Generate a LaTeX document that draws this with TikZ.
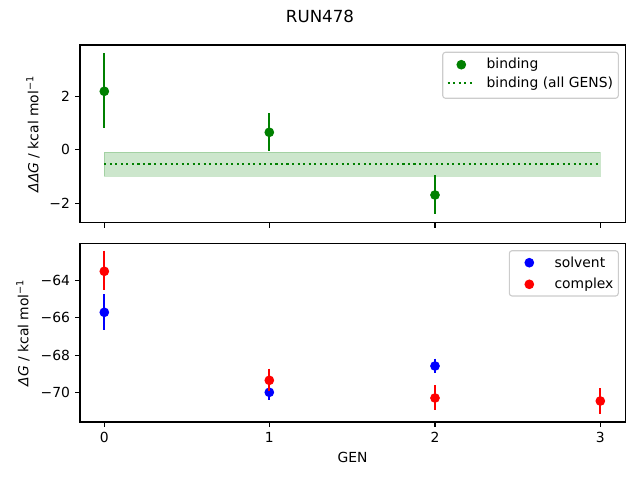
\documentclass[tikz,border=0pt]{standalone}
\usepackage{fontspec}
\setmainfont{DejaVu Sans}
\definecolor{mgreen}{HTML}{008000}
\definecolor{mblue}{HTML}{0000FF}
\definecolor{mred}{HTML}{FF0000}
\definecolor{legedge}{gray}{0.8}
\tikzset{
  lbl/.style={font=\fontsize{10}{12}\selectfont, inner sep=0pt},
  axisframe/.style={draw=black, line width=0.8pt},
  tickmark/.style={draw=black, line width=0.8pt},
  ebar/.style={line width=1.5pt},
  dotmark/.style={circle, inner sep=0pt, minimum size=7pt},
  legbox/.style={draw=legedge, fill=white, fill opacity=0.8, rounded corners=2pt, line width=0.8pt},
}
\begin{document}
\begin{tikzpicture}[x=0.72pt,y=-0.72pt]
\useasboundingbox (0,0) rectangle (640,480);
% title
\node[lbl, font=\fontsize{12}{14}\selectfont] (title) at (320,16.5) {RUN478};

% ================= TOP AXES =================
% band
\fill[mgreen, fill opacity=0.2] (104.3,152.3) rectangle (600.3,176.3);
\draw[mgreen, draw opacity=0.2, line width=1pt] (104.3,152.3) rectangle (600.3,176.3);
\coordinate (la) at (104.3,163.7);
\coordinate (lb) at (600.3,163.7);
\draw[mgreen, line width=1.5pt, dash pattern=on 1.5pt off 2.475pt] (la) -- (lb);
% points
\foreach \x/\y/\t/\b in {104.3/91.3/53.3/127.7, 269.3/132.3/113.3/150.7, 435/195/175/214.3}{
  \draw[mgreen, ebar] (\x,\t) -- (\x,\b);
  \node[dotmark, fill=mgreen] at (\x,\y) {};
}
% frame
\draw[axisframe] (80,45) rectangle (625.3,222.7);
% x ticks (no labels)
\foreach \x in {104.3,269.3,435,600.3}{
  \draw[tickmark] (\x,222.7) -- (\x,227.6);
}
% y ticks
\foreach \y/\l in {96.3/2, 149.8/0, 203.3/−2}{
  \draw[tickmark] (80,\y) -- (75.1,\y);
  \node[lbl, anchor=east] at (70.2,\y) {\l};
}
\node[lbl, rotate=90] (ylabtop) at (33,134) {{\itshape ΔΔG} / kcal mol\textsuperscript{−1}};
% legend top
\draw[legbox] (442.7,52.3) rectangle (618.3,98.3);
\node[dotmark, fill=mgreen] (lg1) at (461.3,64.7) {};
\node[lbl, anchor=west] (lt1) at (486.3,64.7) {binding};
\coordinate (ld1) at (447.7,83.3);
\coordinate (ld2) at (475,83.3);
\draw[mgreen, line width=1.5pt, dash pattern=on 1.5pt off 2.475pt] (ld1) -- (ld2);
\node[lbl, anchor=west] (lt2) at (486.3,83.3) {binding (all GENS)};

% ================= BOTTOM AXES =================
% solvent
\foreach \x/\y/\t/\b in {104.3/312.3/294/330, 269.3/392.3/387.7/400, 435/366/358.7/373.3}{
  \draw[mblue, ebar] (\x,\t) -- (\x,\b);
  \node[dotmark, fill=mblue] at (\x,\y) {};
}
% complex
\foreach \x/\y/\t/\b in {104.3/271.3/250.7/290, 269.3/380.3/368.7/391.3, 435/398/385.3/410, 600.3/401/388/413.7}{
  \draw[mred, ebar] (\x,\t) -- (\x,\b);
  \node[dotmark, fill=mred] at (\x,\y) {};
}
% frame
\draw[axisframe] (80,243.3) rectangle (625.3,422);
% x ticks with labels
\foreach \x/\l in {104.3/0,269.3/1,435/2,600.3/3}{
  \draw[tickmark] (\x,422) -- (\x,426.9);
  \node[lbl, anchor=north] at (\x,431.7) {\l};
}
% y ticks
\foreach \y/\l in {280.7/−64, 317.9/−66, 355.1/−68, 392.3/−70}{
  \draw[tickmark] (80,\y) -- (75.1,\y);
  \node[lbl, anchor=east] at (70.2,\y) {\l};
}
\node[lbl, rotate=90] (ylabbot) at (23,332.7) {{\itshape ΔG} / kcal mol\textsuperscript{−1}};
\node[lbl] (xlab) at (352.5,457.7) {GEN};
% legend bottom
\draw[legbox] (509.3,250.7) rectangle (618.3,296);
\node[dotmark, fill=mblue] (lg2) at (529.3,262.7) {};
\node[lbl, anchor=west] (lt3) at (554.3,262.7) {solvent};
\node[dotmark, fill=mred] (lg3) at (529.3,284.3) {};
\node[lbl, anchor=west] (lt4) at (554.3,284.3) {complex};
\end{tikzpicture}
\end{document}
